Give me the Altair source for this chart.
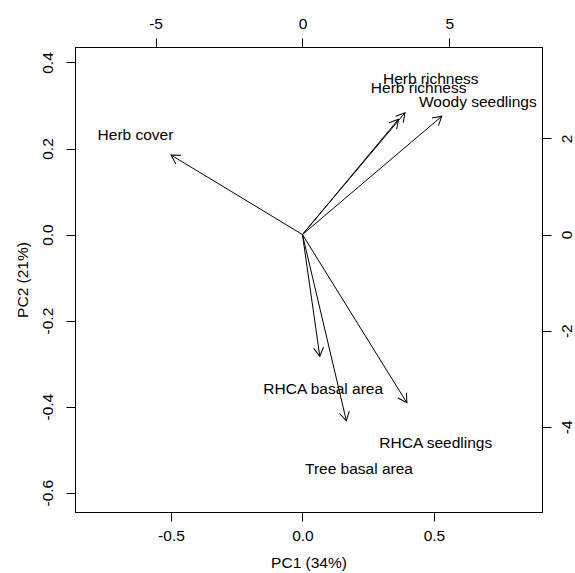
import math
import altair as alt
import pandas as pd

# ---- data ----
variables = ["Herb cover", "Herb richness", "Herb richness", "Woody seedlings",
             "RHCA basal area", "Tree basal area", "RHCA seedlings"]
arrow_x = [-0.50, 0.39, 0.365, 0.53, 0.066, 0.167, 0.397]
arrow_y = [0.185, 0.283, 0.268, 0.275, -0.283, -0.433, -0.391]
label_x = [-0.635, 0.488, 0.442, 0.667, 0.079, 0.215, 0.507]
label_y = [0.232, 0.362, 0.340, 0.309, -0.358, -0.545, -0.485]

bottom_ticks = [-0.5, 0.0, 0.5]
left_ticks = [-0.6, -0.4, -0.2, 0.0, 0.2, 0.4]
top_ticks = [-5, 0, 5]
right_ticks = [-4, -2, 0, 2]

x_dom = [-0.865, 0.911]
y_dom = [-0.645, 0.436]
ratio = 8.95
top_dom = [x_dom[0] * ratio, x_dom[1] * ratio]
right_dom = [y_dom[0] * ratio, y_dom[1] * ratio]

W, H = 467, 465
FONT = "Liberation Sans"
FS = 15.5

sx = W / (x_dom[1] - x_dom[0])
sy = H / (y_dom[1] - y_dom[0])
angles = [math.degrees(math.atan2(-ay * sy, ax * sx)) % 360 for ax, ay in zip(arrow_x, arrow_y)]

arrows = pd.DataFrame({
    "var": variables,
    "x0": [0.0] * len(variables),
    "y0": [0.0] * len(variables),
    "x": arrow_x,
    "y": arrow_y,
    "angle": angles,
})
labels = pd.DataFrame({"var": variables, "x": label_x, "y": label_y})

minus_fix = "replace(datum.label, '\u2212', '-')"

xs = alt.Scale(domain=x_dom, nice=False, zero=False)
ys = alt.Scale(domain=y_dom, nice=False, zero=False)

x_axis = alt.Axis(values=bottom_ticks, format=".1f", labelExpr=minus_fix,
                  title="PC1 (34%)", orient="bottom", grid=False,
                  labelPadding=7, titlePadding=12)
y_axis = alt.Axis(values=left_ticks, format=".1f", labelExpr=minus_fix,
                  title="PC2 (21%)", orient="left", grid=False,
                  labelAngle=270, labelAlign="center", labelBaseline="bottom",
                  labelPadding=11, titleAngle=270, titlePadding=10)

shafts = alt.Chart(arrows).mark_rule(color="black", strokeWidth=1).encode(
    x=alt.X("x0:Q", scale=xs, axis=x_axis),
    y=alt.Y("y0:Q", scale=ys, axis=y_axis),
    x2="x:Q",
    y2="y:Q",
)

heads = alt.Chart(arrows).mark_point(
    shape="M -0.866 -0.5 L 0 0 L -0.866 0.5",
    filled=False, color="black", strokeWidth=1, size=400, opacity=1,
).encode(
    x=alt.X("x:Q", scale=xs, axis=x_axis),
    y=alt.Y("y:Q", scale=ys, axis=y_axis),
    angle=alt.Angle("angle:Q", scale=None),
)

texts = alt.Chart(labels).mark_text(
    font=FONT, fontSize=FS, color="black", align="center", baseline="middle"
).encode(
    x=alt.X("x:Q", scale=xs, axis=x_axis),
    y=alt.Y("y:Q", scale=ys, axis=y_axis),
    text="var:N",
)

main = alt.layer(shafts, heads, texts)

second = alt.Chart(pd.DataFrame({"sx": [0.0], "sy": [0.0]})).mark_point(opacity=0).encode(
    x=alt.X("sx:Q", scale=alt.Scale(domain=top_dom, nice=False, zero=False),
            axis=alt.Axis(values=top_ticks, format="d", labelExpr=minus_fix,
                          title=None, orient="top", grid=False, labelPadding=7)),
    y=alt.Y("sy:Q", scale=alt.Scale(domain=right_dom, nice=False, zero=False),
            axis=alt.Axis(values=right_ticks, format="d", labelExpr=minus_fix,
                          title=None, orient="right", grid=False,
                          labelAngle=270, labelAlign="center", labelBaseline="top",
                          labelPadding=8)),
)

chart = alt.layer(main, second).resolve_scale(x="independent", y="independent").properties(
    width=W, height=H,
    autosize=alt.AutoSizeParams(type="none"),
    padding={"left": 75, "top": 47, "right": 575 - 75 - W, "bottom": 573 - 47 - H},
    background="white",
).configure_view(
    stroke="black", strokeWidth=1,
).configure_axis(
    labelFont=FONT, labelFontSize=FS, labelColor="black",
    titleFont=FONT, titleFontSize=FS, titleColor="black", titleFontWeight="normal",
    domainColor="black", tickColor="black", tickSize=9, domainWidth=1, tickWidth=1,
)

chart.save("out.html", embed_options={"renderer": "svg", "actions": False})
